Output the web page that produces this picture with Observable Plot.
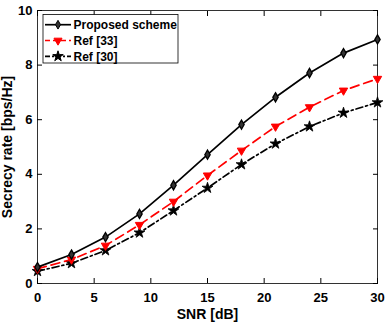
<!DOCTYPE html>
<html>
<head>
<meta charset="utf-8">
<script src="https://cdn.jsdelivr.net/npm/d3@7"></script>
<script src="https://cdn.jsdelivr.net/npm/@observablehq/plot@0.6"></script>
<style>
  html, body { margin: 0; padding: 0; background: #fff; }
  #chart svg { display: block; }
</style>
</head>
<body>
<div id="chart"></div>
<script>
// SNR sweep (dB)
const snr = [0, 3, 6, 9, 12, 15, 18, 21, 24, 27, 30];
// Secrecy rate (bps/Hz) per scheme
const proposed = [0.60, 1.06, 1.70, 2.55, 3.60, 4.72, 5.82, 6.82, 7.71, 8.44, 8.94];
const ref33    = [0.54, 0.88, 1.39, 2.15, 3.00, 3.96, 4.87, 5.75, 6.46, 7.07, 7.50];
const ref30    = [0.45, 0.74, 1.21, 1.86, 2.67, 3.50, 4.36, 5.12, 5.75, 6.25, 6.63];
const seriesNames = ["Proposed scheme", "Ref [33]", "Ref [30]"];
const xTicks = [0, 5, 10, 15, 20, 25, 30];
const yTicks = [0, 2, 4, 6, 8, 10];
const xLabel = "SNR [dB]";
const yLabel = "Secrecy rate [bps/Hz]";

const toRows = (vals) => snr.map((s, i) => ({snr: s, rate: vals[i]}));
const rowsP = toRows(proposed);
const rows33 = toRows(ref33);
const rows30 = toRows(ref30);

// downward-pointing equilateral triangle; size is the area
const triangleDown = {
  draw(context, size) {
    const R = Math.sqrt(size / (3 * Math.sqrt(3) / 4));
    const h = R * Math.sqrt(3) / 2;
    context.moveTo(0, R);
    context.lineTo(-h, -R / 2);
    context.lineTo(h, -R / 2);
    context.closePath();
  }
};

const fontFamily = "'Liberation Sans', Arial, sans-serif";
const fontStyle = {fontFamily, fontSize: "13px", fontWeight: "bold", color: "#000", background: "#fff"};

const chart = Plot.plot({
  width: 386,
  height: 326,
  marginLeft: 37,
  marginRight: 9,
  marginTop: 10,
  marginBottom: 43,
  style: fontStyle,
  x: {domain: [0, 30]},
  y: {domain: [0, 10]},
  marks: [
    Plot.frame({stroke: "#000", strokeWidth: 0.8}),
    Plot.axisX({anchor: "bottom", ticks: xTicks, tickSize: -5, tickPadding: 14, label: null}),
    Plot.axisX({anchor: "top", ticks: xTicks, tickSize: -5, tickFormat: () => "", label: null}),
    Plot.axisY({anchor: "left", ticks: yTicks, tickSize: -5, tickPadding: 10, label: null}),
    Plot.axisY({anchor: "right", ticks: yTicks, tickSize: -5, tickFormat: () => "", label: null}),
    // axis titles
    Plot.text([xLabel], {frameAnchor: "bottom", text: (d) => d, dy: 31.5, lineAnchor: "middle", textAnchor: "middle", fontSize: 14}),
    Plot.text([yLabel], {frameAnchor: "left", text: (d) => d, dx: -30, rotate: -90, lineAnchor: "middle", textAnchor: "middle", fontSize: 14}),
    // Ref [30]: dash-dot black with stars
    Plot.line(rows30, {x: "snr", y: "rate", stroke: "#000", strokeWidth: 1.7, strokeDasharray: "7,3,2,3"}),
    Plot.dot(rows30, {x: "snr", y: "rate", symbol: "star", r: 3.4, fill: "#000", stroke: "#000", strokeWidth: 0.8}),
    // Ref [33]: dashed red with down triangles
    Plot.line(rows33, {x: "snr", y: "rate", stroke: "#f00", strokeWidth: 1.7, strokeDasharray: "9,5"}),
    Plot.dot(rows33, {x: "snr", y: "rate", symbol: triangleDown, r: 3.1, fill: "#f00", stroke: "#f00", strokeWidth: 1}),
    // Proposed scheme: solid black with diamonds
    Plot.line(rowsP, {x: "snr", y: "rate", stroke: "#000", strokeWidth: 1.7}),
    Plot.dot(rowsP, {x: "snr", y: "rate", symbol: "diamond", r: 2.8, fill: "#333", stroke: "#000", strokeWidth: 1.3})
  ]
});

// Legend box in the upper-left corner of the frame
const svg = d3.select(chart);
const lg = svg.append("g").attr("class", "legend");
lg.append("rect").attr("x", 43).attr("y", 14.5).attr("width", 135).attr("height", 48.5)
  .attr("fill", "#fff").attr("stroke", "#000").attr("stroke-width", 0.8);
const entries = [
  {name: seriesNames[0], stroke: "#000", dash: null, sym: d3.symbolDiamond, size: 22, fill: "#333"},
  {name: seriesNames[1], stroke: "#f00", dash: "5,3", sym: triangleDown, size: 28, fill: "#f00"},
  {name: seriesNames[2], stroke: "#000", dash: "5,2,2,2", sym: d3.symbolStar, size: 34, fill: "#000"}
];
entries.forEach((e, i) => {
  const cy = 24.7 + i * 15.8;
  lg.append("line").attr("x1", 45).attr("x2", 71).attr("y1", cy).attr("y2", cy)
    .attr("stroke", e.stroke).attr("stroke-width", 1.7).attr("stroke-dasharray", e.dash);
  lg.append("path").attr("d", d3.symbol(e.sym, e.size)()).attr("transform", `translate(58,${cy})`)
    .attr("fill", e.fill).attr("stroke", e.stroke).attr("stroke-width", 1);
  lg.append("text").attr("x", 73.5).attr("y", cy).attr("dy", "0.36em")
    .attr("text-anchor", "start")
    .attr("font-family", fontFamily).attr("font-size", 12).attr("font-weight", "bold")
    .attr("fill", "#000").text(e.name);
});

document.getElementById("chart").appendChild(chart);
</script>
</body>
</html>
